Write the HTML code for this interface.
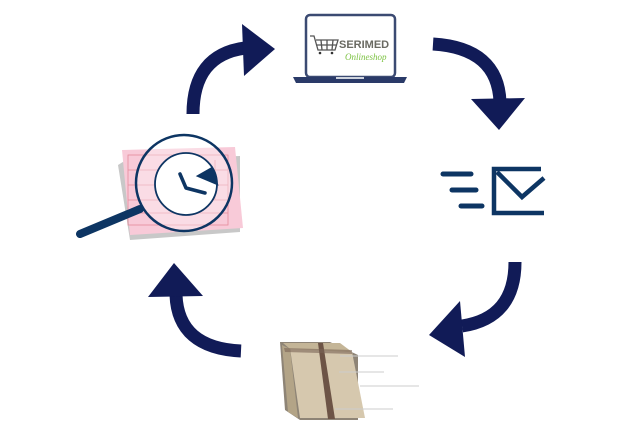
<!DOCTYPE html>
<html><head><style>html,body{margin:0;padding:0;background:#fff;width:624px;height:430px;overflow:hidden}</style></head>
<body>
<svg width="624" height="430" viewBox="0 0 624 430" xmlns="http://www.w3.org/2000/svg">
<g fill="none" stroke="#111b57" stroke-width="13">
<path d="M193,114 Q193,55 245,48"/>
<path d="M433,44 Q498,48 500,102"/>
<path d="M515,262 Q515,318 462,326"/>
<path d="M241,351 Q178,348 176,295"/>
</g>
<g fill="#111b57">
<polygon points="242,24 275,49 244,76"/>
<polygon points="471,99 525,98 499,130"/>
<polygon points="460,301 465,357 429,335"/>
<polygon points="148,297 203,296 174,263"/>
</g>
<!-- laptop -->
<rect x="306" y="15" width="89" height="62" rx="4" fill="#fff" stroke="#3b4a72" stroke-width="2.5"/>
<path d="M293,77 L407,77 L404,83 L296,83 Z" fill="#2a3a68"/>
<rect x="336" y="77" width="28" height="2" fill="#cfd4de"/>
<g stroke="#555" stroke-width="1.3" fill="none">
<path d="M310,36 L314,36 L318,50 L335,50 L338,40 L316,40"/>
<line x1="321" y1="40" x2="322" y2="50"/><line x1="327" y1="40" x2="327" y2="50"/><line x1="333" y1="40" x2="332" y2="50"/>
<line x1="316" y1="45" x2="336" y2="45"/>
</g>
<circle cx="320" cy="53" r="1.3" fill="#333"/><circle cx="332" cy="53" r="1.3" fill="#333"/>
<text x="339" y="48" font-family="Liberation Sans, sans-serif" font-weight="bold" font-size="11" fill="#6a6a62">SERIMED</text>
<text x="345" y="60" font-family="Liberation Serif, serif" font-style="italic" font-size="9" fill="#7cc242">Onlineshop</text>
<!-- mail -->
<g stroke="#0d3563" stroke-width="5" stroke-linecap="round" fill="none">
<line x1="443" y1="174" x2="471" y2="174"/>
<line x1="452" y1="190" x2="476" y2="190"/>
<line x1="461" y1="206" x2="482" y2="206"/>
</g>
<g stroke="#0d3563" stroke-width="4.5" fill="none">
<path d="M541,169 L494,169 L494,213 L544,213"/>
<path d="M497,172 L522,197 L544,178"/>
</g>
<!-- package -->
<polygon points="280,342 330,342 358,355 358,420 300,420 285,410" fill="#8e8476"/>
<polygon points="290,348 352,352 365,418 300,418" fill="#d6c8ae"/>
<polygon points="283,343 340,343 352,352 290,349" fill="#c4b597"/>
<polygon points="282,345 290,349 298,418 288,412" fill="#b3a487"/>
<polygon points="318,343 323,343 335,419 328,419" fill="#6d5446"/>
<polygon points="284,348 352,350 352,354 285,352" fill="#7a6455" opacity="0.6"/>
<g stroke="#ccc" stroke-width="1"><line x1="340" y1="356" x2="398" y2="356"/><line x1="339" y1="372" x2="384" y2="372"/><line x1="360" y1="386" x2="419" y2="386"/><line x1="335" y1="409" x2="393" y2="409"/></g>
<!-- prescription -->
<polygon points="118,165 126,160 240,156 240,232 130,240" fill="#c8c8c8"/>
<polygon points="122,150 235,147 243,228 130,235" fill="#f8cad8"/>
<g stroke="#e58a9a" stroke-width="0.8" fill="none">
<rect x="128" y="155" width="100" height="70"/>
<line x1="128" y1="170" x2="228" y2="170"/><line x1="128" y1="185" x2="228" y2="185"/><line x1="128" y1="200" x2="228" y2="200"/><line x1="128" y1="213" x2="228" y2="213"/>
<line x1="200" y1="155" x2="200" y2="213"/><line x1="215" y1="160" x2="215" y2="200"/>
</g>
<line x1="80" y1="234" x2="140" y2="209" stroke="#0d3563" stroke-width="8" stroke-linecap="round"/>
<circle cx="184" cy="183" r="48" fill="#ffffff" fill-opacity="0.35" stroke="#0d3563" stroke-width="2.5"/>
<circle cx="186" cy="184" r="31" fill="#fff" stroke="#0d3563" stroke-width="1.8"/>
<polygon points="212,168 198,176 217,184" fill="#0d3563" stroke="#0d3563" stroke-width="2"/>
<polyline points="180,174 186,188 205,193" fill="none" stroke="#0d3563" stroke-width="3.5" stroke-linecap="round" stroke-linejoin="round"/>
</svg>
</body></html>
